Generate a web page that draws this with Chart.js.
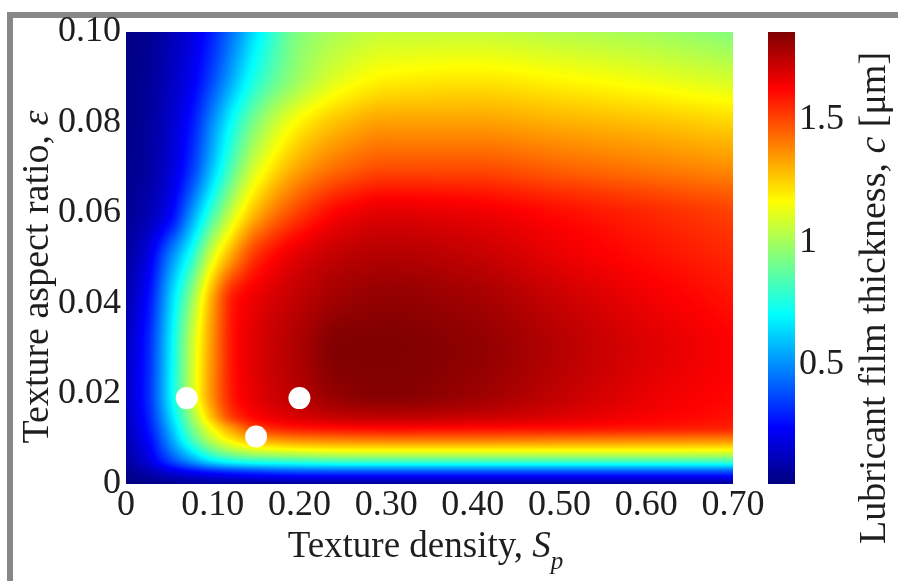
<!DOCTYPE html>
<html>
<head>
<meta charset="utf-8">
<script src="https://cdn.jsdelivr.net/npm/chart.js@4.4.0/dist/chart.umd.min.js"></script>
<style>
  html, body { margin: 0; padding: 0; background: #fff; }
</style>
</head>
<body>
<canvas id="filmChart" width="898" height="581"></canvas>
<script>
// sampling grid of the film thickness map
var densityGrid = [0, 0.025, 0.05, 0.075, 0.1, 0.125, 0.15, 0.2, 0.25, 0.3, 0.4, 0.5, 0.6, 0.7];
var ratioGrid = [0, 0.0025, 0.005, 0.0075, 0.01, 0.0125, 0.015, 0.02, 0.03, 0.04, 0.05, 0.06, 0.07, 0.08, 0.09, 0.1];

// film thickness c [um], one row per aspect ratio, one column per density
var thickness = [
    [0.01, 0.02, 0.03, 0.04, 0.04, 0.04, 0.04, 0.04, 0.04, 0.04, 0.04, 0.04, 0.04, 0.04],
    [0.03, 0.09, 0.16, 0.22, 0.27, 0.30, 0.32, 0.35, 0.35, 0.35, 0.35, 0.35, 0.35, 0.35],
    [0.06, 0.17, 0.34, 0.50, 0.65, 0.73, 0.77, 0.80, 0.82, 0.82, 0.82, 0.82, 0.82, 0.82],
    [0.08, 0.21, 0.44, 0.68, 0.90, 1.03, 1.10, 1.15, 1.17, 1.17, 1.17, 1.17, 1.17, 1.16],
    [0.10, 0.24, 0.51, 0.82, 1.07, 1.23, 1.33, 1.40, 1.42, 1.43, 1.43, 1.42, 1.41, 1.40],
    [0.11, 0.27, 0.56, 0.90, 1.18, 1.38, 1.52, 1.60, 1.62, 1.63, 1.62, 1.61, 1.59, 1.57],
    [0.12, 0.29, 0.61, 0.97, 1.30, 1.54, 1.63, 1.70, 1.74, 1.75, 1.73, 1.69, 1.64, 1.60],
    [0.13, 0.31, 0.66, 1.06, 1.38, 1.60, 1.68, 1.76, 1.83, 1.85, 1.81, 1.74, 1.67, 1.62],
    [0.12, 0.30, 0.65, 1.05, 1.37, 1.61, 1.69, 1.78, 1.86, 1.86, 1.83, 1.76, 1.69, 1.63],
    [0.09, 0.26, 0.60, 0.97, 1.34, 1.60, 1.67, 1.75, 1.81, 1.83, 1.80, 1.73, 1.66, 1.60],
    [0.06, 0.19, 0.47, 0.76, 1.12, 1.37, 1.55, 1.69, 1.75, 1.77, 1.74, 1.67, 1.61, 1.56],
    [0.04, 0.10, 0.22, 0.50, 0.82, 1.10, 1.30, 1.52, 1.64, 1.68, 1.66, 1.61, 1.56, 1.51],
    [0.03, 0.07, 0.16, 0.33, 0.60, 0.88, 1.10, 1.33, 1.44, 1.49, 1.49, 1.45, 1.41, 1.37],
    [0.02, 0.06, 0.14, 0.27, 0.50, 0.74, 0.94, 1.18, 1.29, 1.34, 1.34, 1.31, 1.28, 1.24],
    [0.02, 0.05, 0.12, 0.21, 0.37, 0.57, 0.76, 0.99, 1.12, 1.18, 1.20, 1.17, 1.13, 1.08],
    [0.02, 0.04, 0.10, 0.18, 0.30, 0.47, 0.66, 0.94, 1.02, 1.06, 1.06, 1.03, 1.00, 0.94]
];

// marked texture designs
var sampleDensity = [0.07, 0.15, 0.2];
var sampleRatio = [0.019, 0.0105, 0.019];

var densityTicks = [0, 0.1, 0.2, 0.3, 0.4, 0.5, 0.6, 0.7];
var ratioTicks = [0, 0.02, 0.04, 0.06, 0.08, 0.1];
var thicknessTicks = [0.5, 1, 1.5];
var thicknessMin = 0.01;
var thicknessMax = 1.86;

var serif = '"Liberation Serif", "Times New Roman", serif';
var textColor = '#1e1e1e';

function clamp01(v) { return Math.max(0, Math.min(1, v)); }

// matlab style jet colormap
function jet(v) {
    var t = clamp01((v - thicknessMin) / (thicknessMax - thicknessMin));
    return [
        Math.round(255 * clamp01(1.5 - Math.abs(4 * t - 3))),
        Math.round(255 * clamp01(1.5 - Math.abs(4 * t - 2))),
        Math.round(255 * clamp01(1.5 - Math.abs(4 * t - 1)))
    ];
}

function locate(grid, v) {
    var i = 0;
    while (i < grid.length - 2 && v > grid[i + 1]) i++;
    return [i, clamp01((v - grid[i]) / (grid[i + 1] - grid[i]))];
}

// monotone cubic slopes (Fritsch-Carlson), keeps the shading free of overshoot
function monoSlopes(xs, ys) {
    var n = xs.length, d = [], m = [];
    for (var i = 0; i < n - 1; i++) d.push((ys[i + 1] - ys[i]) / (xs[i + 1] - xs[i]));
    m[0] = d[0];
    m[n - 1] = d[n - 2];
    for (i = 1; i < n - 1; i++) {
        if (d[i - 1] * d[i] <= 0) {
            m[i] = 0;
        } else {
            var h0 = xs[i] - xs[i - 1], h1 = xs[i + 1] - xs[i];
            var w1 = 2 * h1 + h0, w2 = h1 + 2 * h0;
            m[i] = (w1 + w2) / (w1 / d[i - 1] + w2 / d[i]);
        }
    }
    return m;
}

function hermite(xs, ys, m, i, t) {
    var h = xs[i + 1] - xs[i], t2 = t * t, t3 = t2 * t;
    return (2 * t3 - 3 * t2 + 1) * ys[i] + (t3 - 2 * t2 + t) * h * m[i] +
        (-2 * t3 + 3 * t2) * ys[i + 1] + (t3 - t2) * h * m[i + 1];
}

// text made of pieces in different styles, centred on x
function drawRuns(ctx, runs, x, y) {
    var total = 0;
    runs.forEach(function (r) {
        ctx.font = (r.italic ? 'italic ' : '') + r.size + 'px ' + serif;
        r.w = ctx.measureText(r.text).width;
        total += r.w;
    });
    var cx = x - total / 2;
    ctx.textAlign = 'left';
    ctx.textBaseline = 'alphabetic';
    ctx.fillStyle = textColor;
    runs.forEach(function (r) {
        ctx.font = (r.italic ? 'italic ' : '') + r.size + 'px ' + serif;
        ctx.fillText(r.text, cx, y + (r.dy || 0));
        cx += r.w;
    });
}

var filmMap = {
    id: 'filmMap',
    beforeDraw: function (chart) {
        var ctx = chart.ctx;
        ctx.save();
        ctx.fillStyle = '#878787';
        ctx.fillRect(7, 12, 891, 6);
        ctx.fillRect(7, 12, 6, 569);
        ctx.restore();
    },
    beforeDatasetsDraw: function (chart) {
        var ctx = chart.ctx;
        var area = chart.chartArea;
        var xs = chart.scales.x, ys = chart.scales.y, cb = chart.scales.cb;
        var w = Math.round(area.right - area.left);
        var h = Math.round(area.bottom - area.top);
        var off = document.createElement('canvas');
        off.width = w; off.height = h;
        var octx = off.getContext('2d');
        var img = octx.createImageData(w, h);

        var rowSlopes = thickness.map(function (row) { return monoSlopes(densityGrid, row); });
        var colVals = [], colSlopes = [];
        for (var px = 0; px < w; px++) {
            var c = locate(densityGrid, xs.getValueForPixel(area.left + px + 0.5));
            var vals = thickness.map(function (row, r) {
                return hermite(densityGrid, row, rowSlopes[r], c[0], c[1]);
            });
            colVals.push(vals);
            colSlopes.push(monoSlopes(ratioGrid, vals));
        }
        for (var py = 0; py < h; py++) {
            var r = locate(ratioGrid, ys.getValueForPixel(area.top + py + 0.5));
            for (px = 0; px < w; px++) {
                var col = jet(hermite(ratioGrid, colVals[px], colSlopes[px], r[0], r[1]));
                var k = (py * w + px) * 4;
                img.data[k] = col[0]; img.data[k + 1] = col[1]; img.data[k + 2] = col[2]; img.data[k + 3] = 255;
            }
        }
        octx.putImageData(img, 0, 0);
        ctx.drawImage(off, area.left, area.top);

        // colour bar beside the map
        var barLeft = cb.left + 35, barWidth = 27;
        for (var y = Math.round(cb.top); y < Math.round(cb.bottom); y++) {
            var cc = jet(cb.getValueForPixel(y + 0.5));
            ctx.fillStyle = 'rgb(' + cc[0] + ',' + cc[1] + ',' + cc[2] + ')';
            ctx.fillRect(barLeft, y, barWidth, 1);
        }
    },
    afterDraw: function (chart) {
        var ctx = chart.ctx;
        var area = chart.chartArea;
        ctx.save();
        drawRuns(ctx, [
            { text: 'Texture density, ', size: 37 },
            { text: 'S', size: 37, italic: true },
            { text: 'p', size: 25, italic: true, dy: 12 }
        ], (area.left + area.right) / 2 - 4, 557);

        ctx.save();
        ctx.translate(48, 277);
        ctx.rotate(-Math.PI / 2);
        drawRuns(ctx, [
            { text: 'Texture aspect ratio, ', size: 38 },
            { text: '\u03b5', size: 38, italic: true }
        ], 0, 0);
        ctx.restore();

        ctx.save();
        ctx.translate(885, 298);
        ctx.rotate(-Math.PI / 2);
        drawRuns(ctx, [
            { text: 'Lubricant film thickness, ', size: 38 },
            { text: 'c', size: 38, italic: true },
            { text: ' [\u03bcm]', size: 38 }
        ], 0, 0);
        ctx.restore();
        ctx.restore();
    }
};

function fixedTicks(values) {
    return function (scale) {
        scale.ticks = values.map(function (v) { return { value: v }; });
    };
}

// keep the axis boxes at fixed sizes and drop the label overflow padding
function fixedBox(width, height) {
    return function (s) {
        if (width) s.width = width;
        if (height) s.height = height;
        s.paddingTop = 0;
        s.paddingBottom = 0;
        s.paddingLeft = 0;
        s.paddingRight = 0;
    };
}

function twoDecimals(v) {
    return v === 0 ? '0' : v.toFixed(2);
}

var points = sampleDensity.map(function (d, i) {
    return { x: d, y: sampleRatio[i] };
});

var tickFont = { family: serif, size: 36 };

var ctx = document.getElementById('filmChart');
new Chart(ctx, {
    type: 'scatter',
    data: {
        datasets: [{
            data: points,
            pointRadius: 11,
            pointHoverRadius: 11,
            pointBackgroundColor: '#ffffff',
            pointBorderWidth: 0
        }]
    },
    options: {
        responsive: false,
        animation: false,
        events: [],
        layout: { padding: { top: 32, left: 0, right: 0, bottom: 0 }, autoPadding: false },
        plugins: {
            legend: { display: false },
            tooltip: { enabled: false }
        },
        scales: {
            x: {
                type: 'linear',
                min: 0,
                max: 0.7,
                afterBuildTicks: fixedTicks(densityTicks),
                afterFit: fixedBox(0, 97),
                grid: { display: false, drawTicks: false },
                border: { display: false },
                ticks: {
                    autoSkip: false,
                    maxRotation: 0,
                    padding: 0,
                    color: textColor,
                    font: tickFont,
                    callback: twoDecimals
                }
            },
            y: {
                type: 'linear',
                min: 0,
                max: 0.1,
                afterBuildTicks: fixedTicks(ratioTicks),
                afterFit: fixedBox(126, 0),
                grid: { display: false, drawTicks: false },
                border: { display: false },
                ticks: {
                    autoSkip: false,
                    padding: 5,
                    color: textColor,
                    font: tickFont,
                    callback: twoDecimals
                }
            },
            cb: {
                type: 'linear',
                position: 'right',
                min: thicknessMin,
                max: thicknessMax,
                afterBuildTicks: fixedTicks(thicknessTicks),
                afterFit: fixedBox(165, 0),
                grid: { display: false, drawTicks: false, drawOnChartArea: false },
                border: { display: false },
                ticks: {
                    autoSkip: false,
                    padding: 66,
                    color: textColor,
                    font: tickFont,
                    callback: function (v) { return String(v); }
                }
            }
        }
    },
    plugins: [filmMap]
});
</script>
</body>
</html>
